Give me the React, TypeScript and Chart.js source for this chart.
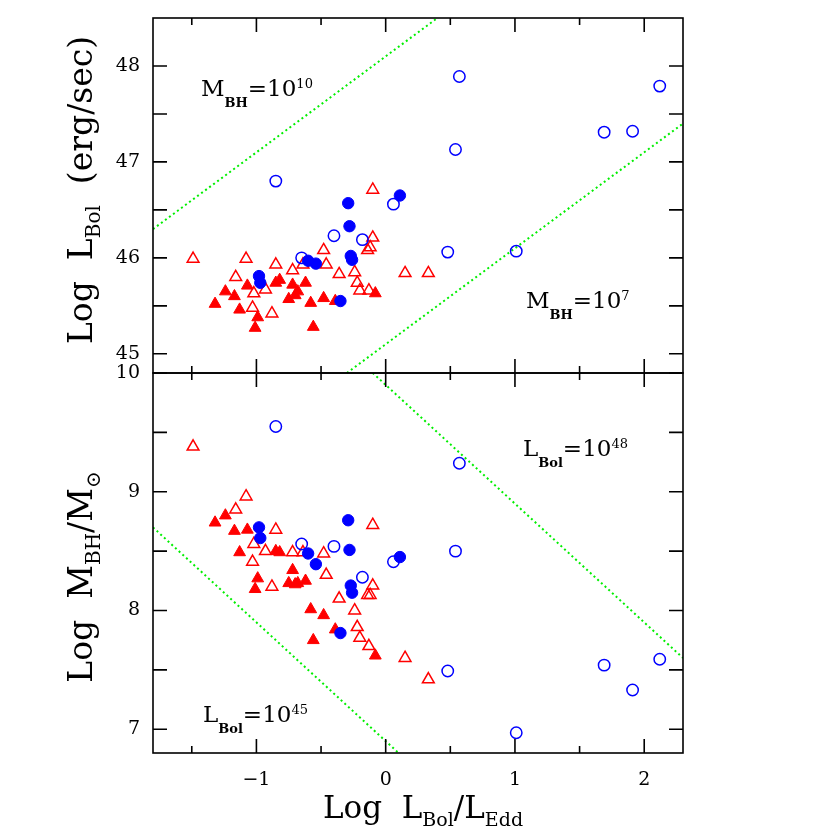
import React, { useEffect, useRef } from 'react';
import { Chart, registerables } from 'chart.js';

Chart.register(...registerables);

// ---- axis ranges and tick values ----
const X_MIN = -1.8;
const X_MAX = 2.3;
const L_MIN = 44.8;
const L_MAX = 48.5;
const M_MIN = 6.8;
const M_MAX = 10;

const xTickLabels = [-1, 0, 1, 2];
const xMinorTicks = [-1.5, -0.5, 0.5, 1.5];
const lTickLabels = [45, 46, 47, 48];
const lTicksAll = [45, 45.5, 46, 46.5, 47, 47.5, 48];
const mTickLabels = [7, 8, 9, 10];
const mTicksAll = [7, 7.5, 8, 8.5, 9, 9.5, 10];

// ---- open blue circles ----
const openCircX = [-0.85, 0.06, -0.40, -0.18, -0.65, 0.57, 0.54, 1.69, 1.91, 2.12, 0.48, 1.01];
const openCircL = [46.80, 46.56, 46.23, 46.19, 46.00, 47.89, 47.13, 47.31, 47.32, 47.79, 46.06, 46.07];
const openCircM = [9.55, 8.41, 8.54, 8.28, 8.56, 9.24, 8.50, 7.54, 7.33, 7.59, 7.49, 6.97];

// ---- filled blue circles ----
const fillCircX = [0.11, -0.29, -0.28, -0.27, -0.26, -0.60, -0.54, -0.98, -0.97, -0.35];
const fillCircL = [46.65, 46.57, 46.33, 46.02, 45.98, 45.97, 45.94, 45.81, 45.74, 45.55];
const fillCircM = [8.45, 8.76, 8.51, 8.21, 8.15, 8.48, 8.39, 8.70, 8.61, 7.81];

// ---- open red triangles ----
const openTriX = [-1.49, -1.08, -0.85, -1.16, -0.72, -0.48, -0.46, -0.36, -0.24, -0.22, -0.20, -0.13, -0.10, -0.14, -0.12, -0.10, 0.15, -1.02, -0.93, -1.03, -0.88, 0.33, -0.64];
const openTriL = [45.99, 45.99, 45.93, 45.80, 45.87, 46.08, 45.93, 45.83, 45.85, 45.74, 45.66, 45.66, 46.21, 46.08, 46.11, 46.71, 45.84, 45.63, 45.67, 45.48, 45.42, 45.84, 45.93];
const openTriM = [9.38, 8.96, 8.68, 8.85, 8.49, 8.48, 8.30, 8.10, 8.00, 7.86, 7.77, 7.70, 8.21, 8.13, 8.13, 8.72, 7.60, 8.56, 8.50, 8.41, 8.20, 7.42, 8.49];

// ---- filled red triangles ----
const fillTriX = [-1.32, -1.24, -1.17, -1.13, -1.07, -0.99, -1.01, -0.85, -0.82, -0.72, -0.68, -0.70, -0.75, -0.62, -0.58, -0.56, -0.48, -0.39, -0.08];
const fillTriL = [45.52, 45.65, 45.60, 45.46, 45.71, 45.38, 45.27, 45.74, 45.77, 45.72, 45.65, 45.61, 45.57, 45.74, 45.53, 45.28, 45.58, 45.55, 45.63];
const fillTriM = [8.74, 8.80, 8.67, 8.49, 8.68, 8.27, 8.18, 8.50, 8.49, 8.34, 8.23, 8.22, 8.23, 8.25, 8.01, 7.75, 7.96, 7.84, 7.62];

// ---- reference lines (end points in data units) ----
const mbh10X = [-1.8, 0.4];
const mbh10L = [46.3, 48.5];
const mbh7X = [-0.3, 2.3];
const mbh7L = [44.8, 47.4];
const lbol48X = [-0.1, 2.3];
const lbol48M = [10, 7.6];
const lbol45X = [-1.8, 0.1];
const lbol45M = [8.7, 6.8];

const RED = '#ff0000';
const BLUE = '#0000ff';
const GREEN = '#00ee00';
const SERIF = '"DejaVu Serif", serif';

const pts = (xs: number[], ys: number[]) => xs.map((x, i) => ({ x, y: ys[i] }));

function markerSets(axis: string, ys: { oc: number[]; fc: number[]; ot: number[]; ft: number[] }) {
  return [
    {
      data: pts(openCircX, ys.oc), yAxisID: axis, xAxisID: 'x',
      pointStyle: 'circle', pointRadius: 5.7, borderColor: BLUE, backgroundColor: 'rgba(0,0,0,0)', pointBorderWidth: 1.5,
    },
    {
      data: pts(fillCircX, ys.fc), yAxisID: axis, xAxisID: 'x',
      pointStyle: 'circle', pointRadius: 5.7, borderColor: BLUE, backgroundColor: BLUE, pointBorderWidth: 1,
    },
    {
      data: pts(openTriX, ys.ot), yAxisID: axis, xAxisID: 'x',
      pointStyle: 'triangle', pointRadius: 6.8, borderColor: RED, backgroundColor: 'rgba(0,0,0,0)', pointBorderWidth: 1.5,
    },
    {
      data: pts(fillTriX, ys.ft), yAxisID: axis, xAxisID: 'x',
      pointStyle: 'triangle', pointRadius: 6.8, borderColor: RED, backgroundColor: RED, pointBorderWidth: 1,
    },
  ];
}

function lineSet(axis: string, xs: number[], ys: number[]) {
  return {
    type: 'line', data: pts(xs, ys), yAxisID: axis, xAxisID: 'x', showLine: true,
    borderColor: GREEN, borderWidth: 2, borderDash: [2, 3], pointRadius: 0, fill: false,
  };
}

type Part = { t: string; font: string; dy?: number };

function drawRich(ctx: CanvasRenderingContext2D, x: number, y: number, parts: Part[], align: 'left' | 'center' = 'left') {
  let w = 0;
  for (const p of parts) { ctx.font = p.font; w += ctx.measureText(p.t).width; }
  let cx = align === 'center' ? x - w / 2 : x;
  ctx.textAlign = 'left';
  ctx.textBaseline = 'alphabetic';
  for (const p of parts) {
    ctx.font = p.font;
    ctx.fillText(p.t, cx, y + (p.dy || 0));
    cx += ctx.measureText(p.t).width;
  }
}

const MAIN = `23px ${SERIF}`;
const SUB = `bold 13px ${SERIF}`;
const SUP = `13px ${SERIF}`;
const XTITLE = `31px ${SERIF}`;
const XTSUB = `19px ${SERIF}`;
const YTITLE = `33px ${SERIF}`;
const YTSUB = `20px ${SERIF}`;

const framePlugin = {
  id: 'frame',
  afterDraw(chart: any) {
    const ctx: CanvasRenderingContext2D = chart.ctx;
    const xs = chart.scales.x;
    const panels = [
      { s: chart.scales.yL, all: lTicksAll },
      { s: chart.scales.yM, all: mTicksAll },
    ];
    ctx.save();
    ctx.strokeStyle = '#000';
    ctx.lineWidth = 1.6;
    for (const p of panels) {
      const top = p.s.top, bot = p.s.bottom;
      ctx.strokeRect(xs.left, top, xs.right - xs.left, bot - top);
      ctx.beginPath();
      for (const v of xTickLabels) {
        const px = xs.getPixelForValue(v);
        ctx.moveTo(px, top); ctx.lineTo(px, top + 14);
        ctx.moveTo(px, bot); ctx.lineTo(px, bot - 14);
      }
      for (const v of xMinorTicks) {
        const px = xs.getPixelForValue(v);
        ctx.moveTo(px, top); ctx.lineTo(px, top + 7);
        ctx.moveTo(px, bot); ctx.lineTo(px, bot - 7);
      }
      for (const v of p.all) {
        const py = p.s.getPixelForValue(v);
        ctx.moveTo(xs.left, py); ctx.lineTo(xs.left + 14, py);
        ctx.moveTo(xs.right, py); ctx.lineTo(xs.right - 14, py);
      }
      ctx.stroke();
    }

    ctx.fillStyle = '#000';
    // annotations
    drawRich(ctx, 201, 96, [
      { t: 'M', font: MAIN }, { t: 'BH', font: SUB, dy: 11 }, { t: '=10', font: MAIN }, { t: '10', font: SUP, dy: -8 },
    ]);
    drawRich(ctx, 526, 308, [
      { t: 'M', font: MAIN }, { t: 'BH', font: SUB, dy: 11 }, { t: '=10', font: MAIN }, { t: '7', font: SUP, dy: -8 },
    ]);
    drawRich(ctx, 523, 456, [
      { t: 'L', font: MAIN }, { t: 'Bol', font: SUB, dy: 11 }, { t: '=10', font: MAIN }, { t: '48', font: SUP, dy: -8 },
    ]);
    drawRich(ctx, 203, 722, [
      { t: 'L', font: MAIN }, { t: 'Bol', font: SUB, dy: 11 }, { t: '=10', font: MAIN }, { t: '45', font: SUP, dy: -8 },
    ]);

    // x title
    drawRich(ctx, 423, 818, [
      { t: 'Log  L', font: XTITLE }, { t: 'Bol', font: XTSUB, dy: 8 }, { t: '/L', font: XTITLE }, { t: 'Edd', font: XTSUB, dy: 8 },
    ], 'center');

    // y titles
    ctx.save();
    ctx.translate(92, 190);
    ctx.rotate(-Math.PI / 2);
    drawRich(ctx, 0, 0, [
      { t: 'Log  L', font: YTITLE }, { t: 'Bol', font: YTSUB, dy: 8 }, { t: '  (erg/sec)', font: YTITLE },
    ], 'center');
    ctx.restore();

    ctx.save();
    ctx.translate(92, 577);
    ctx.rotate(-Math.PI / 2);
    drawRich(ctx, 0, 0, [
      { t: 'Log  M', font: YTITLE }, { t: 'BH', font: YTSUB, dy: 8 }, { t: '/M', font: YTITLE }, { t: '⊙', font: YTSUB, dy: 8 },
    ], 'center');
    ctx.restore();

    ctx.restore();
  },
};

const fmtX = (v: number) => (v < 0 ? '\u2212' + Math.abs(v) : String(v));

export default function App() {
  const ref = useRef<HTMLCanvasElement | null>(null);

  useEffect(() => {
    if (!ref.current) return;
    const tickFont = { family: SERIF, size: 19 };
    const yCommon = (min: number, max: number, labels: number[], weight: number, stackWeight: number) => ({
      type: 'linear',
      position: 'left',
      stack: 'panels',
      stackWeight,
      weight,
      min,
      max,
      grid: { display: false, drawTicks: false },
      border: { display: false },
      afterBuildTicks: (s: any) => { s.ticks = labels.map((v) => ({ value: v })); },
      afterFit: (s: any) => { s.width = 153; s.paddingTop = 0; s.paddingBottom = 0; },
      ticks: { font: tickFont, color: '#000', padding: 13, autoSkip: false, callback: (v: any) => String(v) },
    });

    const datasets: any[] = [
      ...markerSets('yL', { oc: openCircL, fc: fillCircL, ot: openTriL, ft: fillTriL }),
      ...markerSets('yM', { oc: openCircM, fc: fillCircM, ot: openTriM, ft: fillTriM }),
      lineSet('yL', mbh10X, mbh10L),
      lineSet('yL', mbh7X, mbh7L),
      lineSet('yM', lbol48X, lbol48M),
      lineSet('yM', lbol45X, lbol45M),
    ];

    const chart = new Chart(ref.current, {
      type: 'scatter',
      data: { datasets },
      options: {
        responsive: false,
        animation: false,
        devicePixelRatio: 1,
        events: [],
        layout: { padding: { left: 0, right: 147, top: 18, bottom: 0 } },
        plugins: { legend: { display: false }, tooltip: { enabled: false } },
        scales: {
          x: {
            type: 'linear',
            position: 'bottom',
            min: X_MIN,
            max: X_MAX,
            grid: { display: false, drawTicks: false },
            border: { display: false },
            afterBuildTicks: (s: any) => { s.ticks = xTickLabels.map((v) => ({ value: v })); },
            afterFit: (s: any) => { s.height = 77; s.paddingLeft = 0; s.paddingRight = 0; },
            ticks: { font: tickFont, color: '#000', padding: 16, autoSkip: false, maxRotation: 0, callback: (v: any) => fmtX(Number(v)) },
          },
          yL: yCommon(L_MIN, L_MAX, lTickLabels, 1, 355),
          yM: yCommon(M_MIN, M_MAX, mTickLabels, 0, 380),
        },
      } as any,
      plugins: [framePlugin],
    } as any);
    return () => chart.destroy();
  }, []);

  return (
    <div style={{ position: 'fixed', left: 0, top: 0, width: 830, height: 830, background: '#fff' }}>
      <canvas ref={ref} width={830} height={830} style={{ display: 'block' }} />
    </div>
  );
}
